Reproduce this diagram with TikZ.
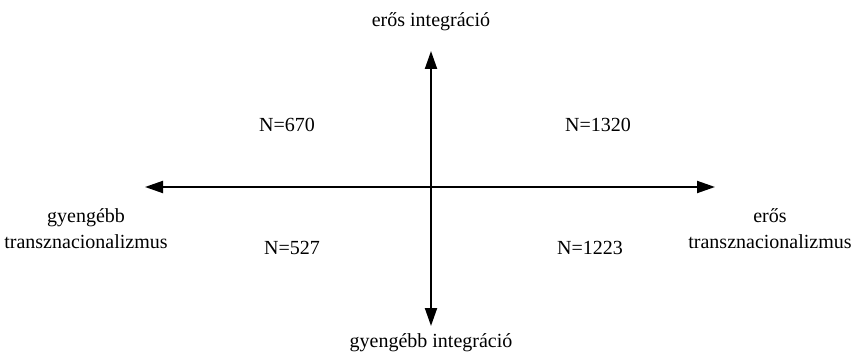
\documentclass[tikz,border=0pt]{standalone}
\usepackage{fontspec}
\setmainfont{Liberation Serif}
\usetikzlibrary{arrows.meta}
\begin{document}
\begin{tikzpicture}[x=1pt,y=-1pt,
  lbl/.style={font=\fontsize{20}{26}\selectfont, inner sep=0pt, align=center},
  axis/.style={line width=2pt, -{Triangle[length=18pt,width=12pt]}}]
\useasboundingbox (0,0) rectangle (854,358);
\coordinate (c) at (431,187);
\coordinate (top) at (431,51);
\coordinate (bot) at (431,326);
\coordinate (left) at (145,187);
\coordinate (right) at (715,187);
\draw[axis] (c) -- (top);
\draw[axis] (c) -- (bot);
\draw[axis] (c) -- (left);
\draw[axis] (c) -- (right);
\node[lbl] (t) at (431,22) {erős integráció};
\node[lbl] (b) at (431,343) {gyengébb integráció};
\node[lbl] (l) at (86,229) {gyengébb\\transznacionalizmus};
\node[lbl] (r) at (770,229) {erős\\transznacionalizmus};
\node[lbl] (q1) at (287,125) {N=670};
\node[lbl] (q2) at (598,125) {N=1320};
\node[lbl] (q3) at (292,248) {N=527};
\node[lbl] (q4) at (590,248) {N=1223};
\end{tikzpicture}
\end{document}
